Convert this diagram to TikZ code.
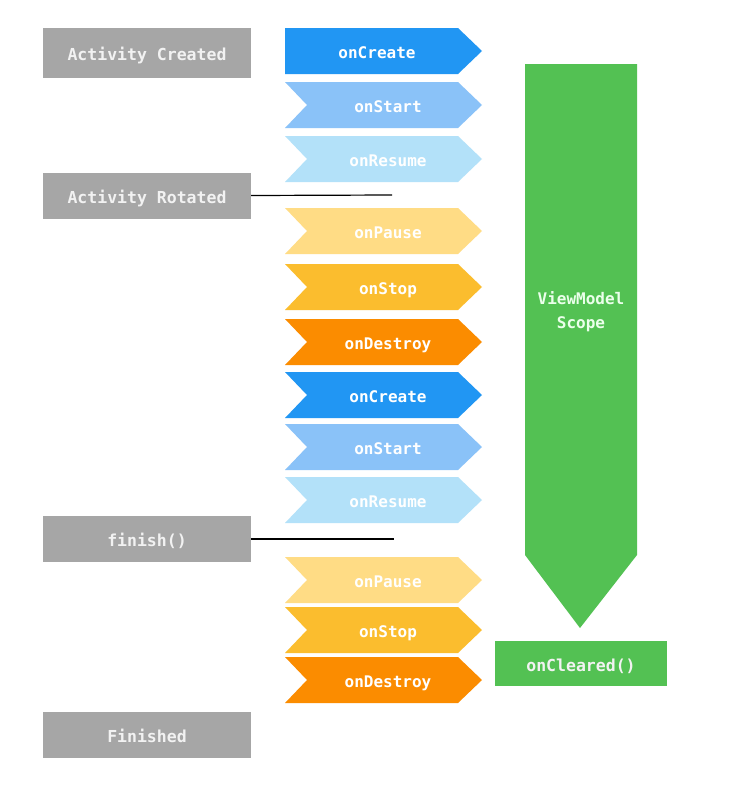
\documentclass[tikz,border=0pt]{standalone}
\usepackage{fontspec}
\setmonofont{DejaVu Sans Mono}
\usetikzlibrary{positioning, calc}

\definecolor{stategray}{HTML}{A6A6A6}
\definecolor{createblue}{HTML}{2196F3}
\definecolor{startblue}{HTML}{8AC2F8}
\definecolor{resumeblue}{HTML}{B3E1F9}
\definecolor{pauseyellow}{HTML}{FFDC85}
\definecolor{stopamber}{HTML}{FBBD2E}
\definecolor{destroyorange}{HTML}{FB8C00}
\definecolor{scopegreen}{HTML}{53C153}

\tikzset{
  statebox/.style={fill=stategray, text=white!95!black, minimum width=208, minimum height=46,
    inner sep=0, text height=15, text depth=0,
    font=\ttfamily\bfseries\fontsize{16.5}{18}\selectfont},
  hooklabel/.style={text=white, inner sep=0, text height=15, text depth=0,
    font=\ttfamily\bfseries\fontsize{16}{18}\selectfont},
  scopelabel/.style={text=white!92!green, inner sep=0, align=center,
    font=\ttfamily\bfseries\fontsize{16}{24}\selectfont},
}

\begin{document}
\begin{tikzpicture}[x=1pt,y=-1pt]
    \useasboundingbox[fill=white] (0,0) rectangle (736,790);

    % activity states
    \node[statebox, minimum height=50] (created) at (147,53) {Activity Created};
    \node[statebox] (rotated) at (147,195.5) {Activity Rotated};
    \node[statebox] (finish) at (147,539) {finish()};
    \node[statebox] (finished) at (147,734.5) {Finished};

    \coordinate (rotEnd) at (392,195);
    \coordinate (finEnd) at (394,539);
    \draw[line width=1.2] (rotated.east) -- (rotEnd);
    \draw[line width=1.2] (finish.east) -- (finEnd);

    % lifecycle callbacks
    \foreach \name/\top/\col/\lbl/\notch in {
        create1/28/createblue/onCreate/0,
        start1/82/startblue/onStart/22,
        resume1/136/resumeblue/onResume/22,
        pause1/208/pauseyellow/onPause/22,
        stop1/264/stopamber/onStop/22,
        destroy1/319/destroyorange/onDestroy/22,
        create2/372/createblue/onCreate/22,
        start2/424/startblue/onStart/22,
        resume2/477/resumeblue/onResume/22,
        pause2/557/pauseyellow/onPause/22,
        stop2/607/stopamber/onStop/22,
        destroy2/657/destroyorange/onDestroy/22}{
      \fill[\col] (285,\top) -- (458,\top) -- (482,{\top+23}) -- (458,{\top+46})
        -- (285,{\top+46}) -- ({285+\notch},{\top+23}) -- cycle;
      \node[hooklabel] (\name) at ({377+\notch/2},{\top+23}) {\lbl};
    }

    % viewmodel scope
    \fill[scopegreen] (525,64) -- (637,64) -- (637,555) -- (580,628) -- (525,555) -- cycle;
    \node[scopelabel] (scope) at (581,312) {ViewModel\\Scope};
    \node[statebox, fill=scopegreen, minimum width=172, minimum height=45] (cleared) at (581,663.5) {onCleared()};
  \end{tikzpicture}
\end{document}
